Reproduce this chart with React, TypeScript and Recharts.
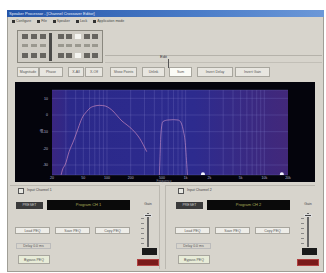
import React from 'react';
import {
  ComposedChart, Line, Scatter, XAxis, YAxis, CartesianGrid, ReferenceLine,
} from 'recharts';

// frequency response of the two crossover outputs (Hz / dB)
const lowFreqs = [20, 24, 27.6, 29.3, 33, 38, 43, 48, 55, 61, 70, 80, 95, 108, 119, 135, 155, 180, 213, 260, 320];
const lowGain = [-60, -44, -32, -30, -22, -15, -8, -2, 2, 4.2, 5.4, 5.8, 5.4, 4, 2.4, -0.5, -3.6, -6, -9, -14, -22];

const midFreqs = [430, 460, 471, 484, 512, 594, 700, 798, 860, 897, 940, 980, 1040, 1100];
const midGain = [-60, -40, -27, -12, -4, -3, -2.8, -3, -4, -6, -10, -15, -32, -50];

const markerFreqs = [1660, 16700];
const markerGain = [-35.5, -35.5];

const gridFreqs = [30, 40, 50, 60, 70, 80, 90, 100, 200, 300, 400, 500, 600, 700, 800, 900, 1000,
  2000, 3000, 4000, 5000, 6000, 7000, 8000, 9000, 10000];
const freqTicks = [20, 50, 100, 200, 500, 1000, 2000, 5000, 10000, 20000];
const freqLabels = ['20', '50', '100', '200', '500', '1k', '2k', '5k', '10k', '20k'];
const gainTicks = [10, 0, -10, -20, -30];

const toRows = (fs: number[], gs: number[]) => fs.map((f, i) => ({ f, g: gs[i] }));
const lowData = toRows(lowFreqs, lowGain);
const midData = toRows(midFreqs, midGain);
const markerData = toRows(markerFreqs, markerGain);

const menuItems = ['Configure', 'File', 'Speaker', 'Lock', 'Application mode'];
const toolButtons = ['Magnitude', 'Phase', 'X-All', 'X-Off', 'Show Points', 'Unlink', 'Sum', 'Invert Delay', 'Invert Gain'];

const FONT = '"Liberation Sans", Arial, sans-serif';

const abs = (left: number, top: number, width: number, height: number, extra: React.CSSProperties = {}): React.CSSProperties => ({
  position: 'absolute', left, top, width, height, boxSizing: 'border-box', ...extra,
});

const Btn = ({ x, y, w, h, label, bg = '#eeede8' }: { x: number; y: number; w: number; h: number; label: string; bg?: string }) => (
  <div style={abs(x, y, w, h, {
    background: bg, border: '1px solid #a8a69e', fontSize: 3.5, color: '#555',
    display: 'flex', alignItems: 'center', justifyContent: 'center', whiteSpace: 'nowrap', overflow: 'hidden',
  })}>{label}</div>
);

const ChannelPanel = ({ x, title, program }: { x: number; title: string; program: string }) => (
  <>
    <div style={abs(x + 6, 188, 6, 6, { border: '1px solid #555', background: '#e8e8e2' })} />
    <div style={abs(x + 15, 188, 60, 6, { fontSize: 3.5, color: '#444', whiteSpace: 'nowrap' })}>{title}</div>
    <div style={abs(x + 4, 202, 27, 7, { background: '#3a3a3a', color: '#ccc', fontSize: 3.5, textAlign: 'center', lineHeight: '7px' })}>PRESET</div>
    <div style={abs(x + 35, 200, 83, 10, { background: '#0a0a0a', color: '#a8a858', fontSize: 4, textAlign: 'center', lineHeight: '10px' })}>{program}</div>
    <div style={abs(x + 130, 202, 12, 6, { fontSize: 3.5, color: '#444', textAlign: 'center' })}>Gain</div>
    <div style={abs(x + 135, 213, 2, 34, { background: '#666' })} />
    <div style={abs(x + 132, 214, 8, 3, { background: '#444', border: '1px solid #ddd' })} />
    {[0, 1, 2, 3, 4, 5].map((i) => (
      <div key={i} style={abs(x + 129, 218 + i * 5, 3, 1, { background: '#888' })} />
    ))}
    <div style={abs(x + 130, 248, 15, 7, { background: '#1a1a1a' })} />
    <div style={abs(x + 125, 259, 22, 7, { background: '#7a1a1a', border: '1px solid #b04040' })} />
    <Btn x={x + 3} y={227} w={35} h={7} label="Load PEQ" />
    <Btn x={x + 43} y={227} w={35} h={7} label="Save PEQ" />
    <Btn x={x + 83} y={227} w={35} h={7} label="Copy PEQ" />
    <div style={abs(x + 4, 243, 35, 6, { border: '1px solid #bbb', fontSize: 3.5, color: '#555', textAlign: 'center', lineHeight: '5px' })}>Delay 0.0 ms</div>
    <Btn x={x + 6} y={255} w={32} h={9} label="Bypass PEQ" bg="#e8ecd8" />
  </>
);

const Marker = (props: { cx?: number; cy?: number }) => (
  <circle cx={props.cx} cy={props.cy} r={2} fill="#f2f2ff" />
);

export default function App() {
  return (
    <div style={abs(0, 0, 326, 273, { background: '#ffffff', overflow: 'hidden', fontFamily: FONT })}>
      {/* application window */}
      <div style={abs(7, 10, 317, 262, { background: '#d7d4cc', border: '1px solid #a09e96' })} />
      <div style={abs(7, 10, 317, 7, { background: 'linear-gradient(90deg, #2454a8, #4a7cc8 60%, #6c98d8)' })} />
      <div style={abs(9, 10, 150, 7, { fontSize: 4, color: '#e8eefa', lineHeight: '7px', whiteSpace: 'nowrap' })}>
        Speaker Processor - [Channel Crossover Editor]
      </div>
      <div style={abs(8, 17, 315, 8, { display: 'flex', gap: 6, alignItems: 'center', paddingLeft: 4, fontSize: 3.5, color: '#444' })}>
        {menuItems.map((m) => (
          <span key={m} style={{ display: 'flex', alignItems: 'center', gap: 1 }}>
            <span style={{ width: 3, height: 3, background: '#333', display: 'inline-block' }} />{m}
          </span>
        ))}
      </div>

      {/* routing matrix */}
      <div style={abs(17, 30, 86, 33, { border: '1px solid #8a887f', background: '#cfccc4' })} />
      {[36, 46, 55].map((ry, r) => (
        <React.Fragment key={ry}>
          {[22, 31, 40, 58, 66, 75, 84, 92].map((cx, c) => (
            <div key={cx} style={abs(cx, ry - 2, 6, r === 1 ? 3 : 5, {
              background: c === 5 && r !== 1 ? '#f4f4f0' : r === 1 ? '#9a988f' : '#66645f',
            })} />
          ))}
        </React.Fragment>
      ))}
      <div style={abs(49, 33, 3, 28, { background: '#4a4a48' })} />

      <div style={abs(105, 55, 217, 1, { background: '#b5b2aa' })} />
      <div style={abs(105, 62, 217, 1, { background: '#c2bfb7' })} />
      <div style={abs(160, 54, 20, 6, { fontSize: 4, color: '#333' })}>Edit</div>
      <div style={abs(168, 59, 1, 9, { background: '#555' })} />

      {/* tool buttons */}
      {toolButtons.map((b, i) => {
        const xs = [17, 39, 68, 85, 110, 142, 169, 197, 235];
        const ws = [22, 24, 16, 18, 27, 23, 23, 36, 35];
        return <Btn key={b} x={xs[i]} y={67} w={ws[i]} h={10} label={b} bg={i === 6 ? '#fbfbf6' : '#e8e6e0'} />;
      })}

      {/* response plot */}
      <div style={abs(15, 82, 300, 100, { background: '#04040c' })}>
        <ComposedChart width={300} height={98} margin={{ top: 8, right: 27, left: 0, bottom: 0 }}>
          <defs>
            <linearGradient id="plotBg" x1="0" y1="0" x2="1" y2="0">
              <stop offset="0" stopColor="#3a2680" />
              <stop offset="0.08" stopColor="#2b298a" />
              <stop offset="0.6" stopColor="#2d2b8e" />
              <stop offset="1" stopColor="#42287a" />
            </linearGradient>
          </defs>
          <CartesianGrid vertical={false} fill="url(#plotBg)" stroke="#7a78c8" strokeOpacity={0.45} strokeWidth={0.6} />
          {gridFreqs.map((f) => (
            <ReferenceLine key={f} x={f} stroke="#8c8ad0" strokeOpacity={0.4} strokeWidth={0.6} />
          ))}
          <XAxis
            dataKey="f" type="number" scale="log" domain={[20, 20000]} ticks={freqTicks}
            tickFormatter={(v: number) => freqLabels[freqTicks.indexOf(v)]}
            height={5} tickLine={false} axisLine={false} tickSize={0} interval={0}
            tick={{ fontSize: 3.5, fill: '#b8b8d8' }} allowDataOverflow
          />
          <YAxis
            dataKey="g" type="number" domain={[-36, 15]} ticks={gainTicks} width={37}
            tickLine={false} axisLine={false} tickSize={2} interval={0}
            tick={{ fontSize: 3.5, fill: '#b8b8d8' }} allowDataOverflow
          />
          <Line data={lowData} dataKey="g" type="monotone" stroke="#d890c0" strokeOpacity={0.8} strokeWidth={0.8} dot={false} isAnimationActive={false} />
          <Line data={midData} dataKey="g" type="monotone" stroke="#c890c8" strokeOpacity={0.8} strokeWidth={0.8} dot={false} isAnimationActive={false} />
          <Scatter data={markerData} dataKey="g" shape={<Marker />} isAnimationActive={false} />
        </ComposedChart>
      </div>
      <div style={abs(38, 128, 10, 6, { fontSize: 3.5, color: '#b8b8d8', transform: 'rotate(-90deg)', textAlign: 'center' })}>dB</div>
      <div style={abs(150, 179, 28, 4, { fontSize: 3.2, lineHeight: '4px', color: '#8a8a9a', textAlign: 'center' })}>Frequency</div>

      {/* channel panels */}
      <div style={abs(10, 185, 150, 84, { borderTop: '1px solid #bbb8b0', borderRight: '1px solid #bbb8b0' })} />
      <div style={abs(165, 185, 150, 84, { borderTop: '1px solid #bbb8b0', borderLeft: '1px solid #bbb8b0' })} />
      <ChannelPanel x={12} title="Input Channel 1" program="Program CH 1" />
      <ChannelPanel x={172} title="Input Channel 2" program="Program CH 2" />
    </div>
  );
}
